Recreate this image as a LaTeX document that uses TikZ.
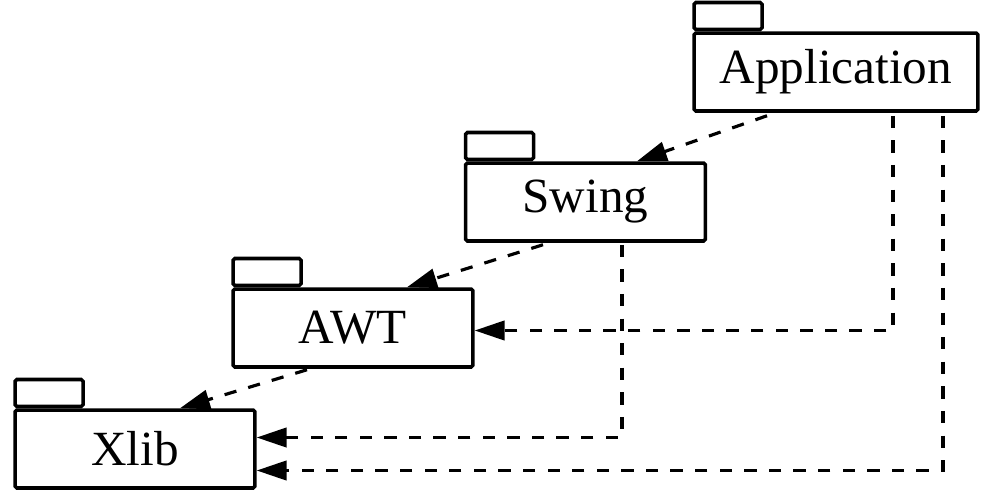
\documentclass[tikz,border=0pt]{standalone}
\usepackage{fontspec}
\setmainfont{Liberation Serif}
\usetikzlibrary{arrows.meta}

\begin{document}
\begin{tikzpicture}[x=0.02cm, y=-0.02cm,
  pkg/.style={rectangle, draw=black, line width=2pt, rounded corners=1pt,
    minimum width=4.8cm, minimum height=1.56cm, inner sep=0pt,
    font=\fontsize{28}{30}\selectfont},
  pkgtab/.style={rectangle, draw=black, line width=2pt, rounded corners=1pt,
    minimum width=1.36cm, minimum height=0.54cm, inner sep=0pt,
    anchor=south west},
  dep/.style={-{Triangle[length=17pt, width=11pt]}, line width=1.8pt,
    dash pattern=on 7pt off 7pt},
]
\useasboundingbox (0,0) rectangle (988,504);

% packages
\node[pkg, minimum width=5.68cm] (app) at (836, 72) {Application};
\node[pkgtab] (apptab) at (app.north west) {};

\node[pkg] (swing) at (585.5, 202) {Swing};
\node[pkgtab] (swingtab) at (swing.north west) {};

\node[pkg] (awt) at (353, 328) {AWT};
\node[pkgtab] (awttab) at (awt.north west) {};

\node[pkg] (xlib) at (135, 449) {Xlib};
\node[pkgtab] (xlibtab) at (xlib.north west) {};

% dependencies
\draw[dep] ([xshift=-1.38cm, yshift=-0.06cm]app.south)
  -- ([xshift=1.03cm]swing.north);
\draw[dep] ([xshift=-0.85cm, yshift=-0.04cm]swing.south)
  -- ([xshift=1.08cm]awt.north);
\draw[dep] ([xshift=-0.92cm, yshift=-0.02cm]awt.south)
  -- ([xshift=0.9cm]xlib.north);

\draw[dep] ([xshift=1.14cm, yshift=-0.06cm]app.south)
  |- ([yshift=-0.05cm]awt.east);
\draw[dep] ([xshift=2.14cm, yshift=-0.06cm]app.south)
  |- ([yshift=-0.43cm]xlib.east);
\draw[dep] ([xshift=0.73cm, yshift=-0.04cm]swing.south)
  |- ([yshift=0.23cm]xlib.east);

\end{tikzpicture}
\end{document}
